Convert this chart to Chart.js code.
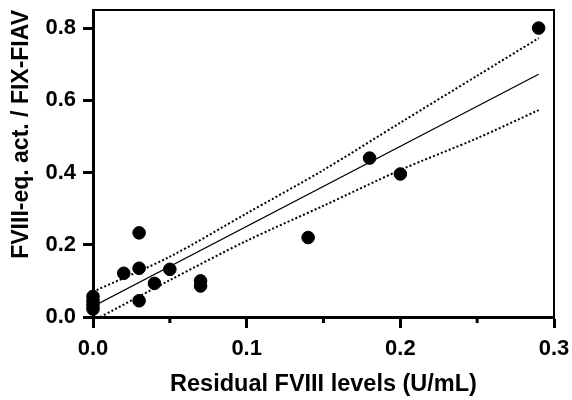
<!DOCTYPE html>
<html>
<head>
<meta charset="utf-8">
<script src="https://cdn.jsdelivr.net/npm/chart.js@4/dist/chart.umd.min.js"></script>
<style>
    html, body { margin: 0; padding: 0; background: #fff; }
    #wrap { width: 572px; height: 400px; }
</style>
</head>
<body>
<div id="wrap"><canvas id="chart" width="572" height="400"></canvas></div>
<script>
    // observed points
    const residualFVIII = [0, 0, 0, 0, 0.02, 0.03, 0.03, 0.03, 0.04, 0.05, 0.07, 0.07, 0.14, 0.18, 0.2, 0.29];
    const eqActivity = [0.057, 0.045, 0.033, 0.022, 0.121, 0.233, 0.135, 0.045, 0.093, 0.132, 0.1, 0.086, 0.22, 0.44, 0.396, 0.8];

    // linear fit and 95% band
    const fitX = [0, 0.29];
    const fitY = [0.029, 0.672];
    const bandX = [0, 0.05, 0.1, 0.15, 0.2, 0.25, 0.29];
    const bandUpper = [0.07, 0.167, 0.287, 0.407, 0.538, 0.668, 0.772];
    const bandLower = [-0.011, 0.102, 0.211, 0.308, 0.407, 0.495, 0.573];

    const xMinorTicks = [0.05, 0.15, 0.25];

    const pairs = (xs, ys) => xs.map((x, i) => ({ x, y: ys[i] }));
    const font = 'Liberation Sans, Arial, Helvetica, sans-serif';

    const dotted = {
        type: 'line', showLine: true, pointRadius: 0, borderColor: '#000', borderWidth: 2,
        borderDash: [2, 2.2], tension: 0.3, clip: 0, fill: false,
    };

    const frame = {
        id: 'frame',
        afterDraw(chart) {
            const { ctx, chartArea: a, scales } = chart;
            ctx.save();
            ctx.strokeStyle = '#000';
            ctx.lineWidth = 2;
            ctx.beginPath();
            ctx.moveTo(a.left, a.top);
            ctx.lineTo(a.right, a.top);
            ctx.lineTo(a.right, a.bottom);
            ctx.stroke();
            ctx.lineWidth = 3;
            xMinorTicks.forEach((v) => {
                const x = scales.x.getPixelForValue(v);
                ctx.beginPath();
                ctx.moveTo(x, a.bottom);
                ctx.lineTo(x, a.bottom + 6);
                ctx.stroke();
            });
            ctx.restore();
        },
    };

    new Chart(document.getElementById('chart'), {
        type: 'scatter',
        data: {
            datasets: [
                { data: pairs(residualFVIII, eqActivity), backgroundColor: '#000', borderColor: '#000', pointRadius: 6.3, pointHoverRadius: 6.3, clip: 10 },
                { type: 'line', data: pairs(fitX, fitY), showLine: true, pointRadius: 0, borderColor: '#000', borderWidth: 1.3, fill: false },
                Object.assign({ data: pairs(bandX, bandUpper) }, dotted),
                Object.assign({ data: pairs(bandX, bandLower) }, dotted),
            ],
        },
        options: {
            responsive: false,
            animation: false,
            layout: { padding: { top: 10, right: 18, left: 6, bottom: 0 } },
            plugins: { legend: { display: false }, tooltip: { enabled: false } },
            scales: {
                x: {
                    type: 'linear', min: 0, max: 0.3,
                    border: { color: '#000', width: 3 },
                    grid: { drawOnChartArea: false, tickLength: 11, tickColor: '#000', tickWidth: 3 },
                    ticks: { stepSize: 0.1, padding: 8, color: '#000', font: { family: font, size: 22, weight: 'bold' }, callback: (v) => v.toFixed(1) },
                    title: { display: true, text: 'Residual FVIII levels (U/mL)', color: '#000', font: { family: font, size: 23.5, weight: 'bold' }, padding: { top: 4, bottom: 1 } },
                    afterFit: (scale) => { scale.height = 83; scale.paddingLeft = 0; scale.paddingRight = 0; },
                },
                y: {
                    type: 'linear', min: 0, max: 0.85,
                    border: { color: '#000', width: 3 },
                    grid: { drawOnChartArea: false, tickLength: 10, tickColor: '#000', tickWidth: 3 },
                    ticks: { stepSize: 0.2, includeBounds: false, padding: 7, color: '#000', font: { family: font, size: 22, weight: 'bold' }, callback: (v) => v.toFixed(1) },
                    title: { display: true, text: 'FVIII-eq. act. / FIX-FIAV', align: 'end', color: '#000', font: { family: font, size: 23, weight: 'bold' }, padding: { top: 2, bottom: 0 } },
                    afterFit: (scale) => { scale.width = 87; scale.paddingTop = 0; scale.paddingBottom = 0; },
                },
            },
        },
        plugins: [frame],
    });
</script>
</body>
</html>
